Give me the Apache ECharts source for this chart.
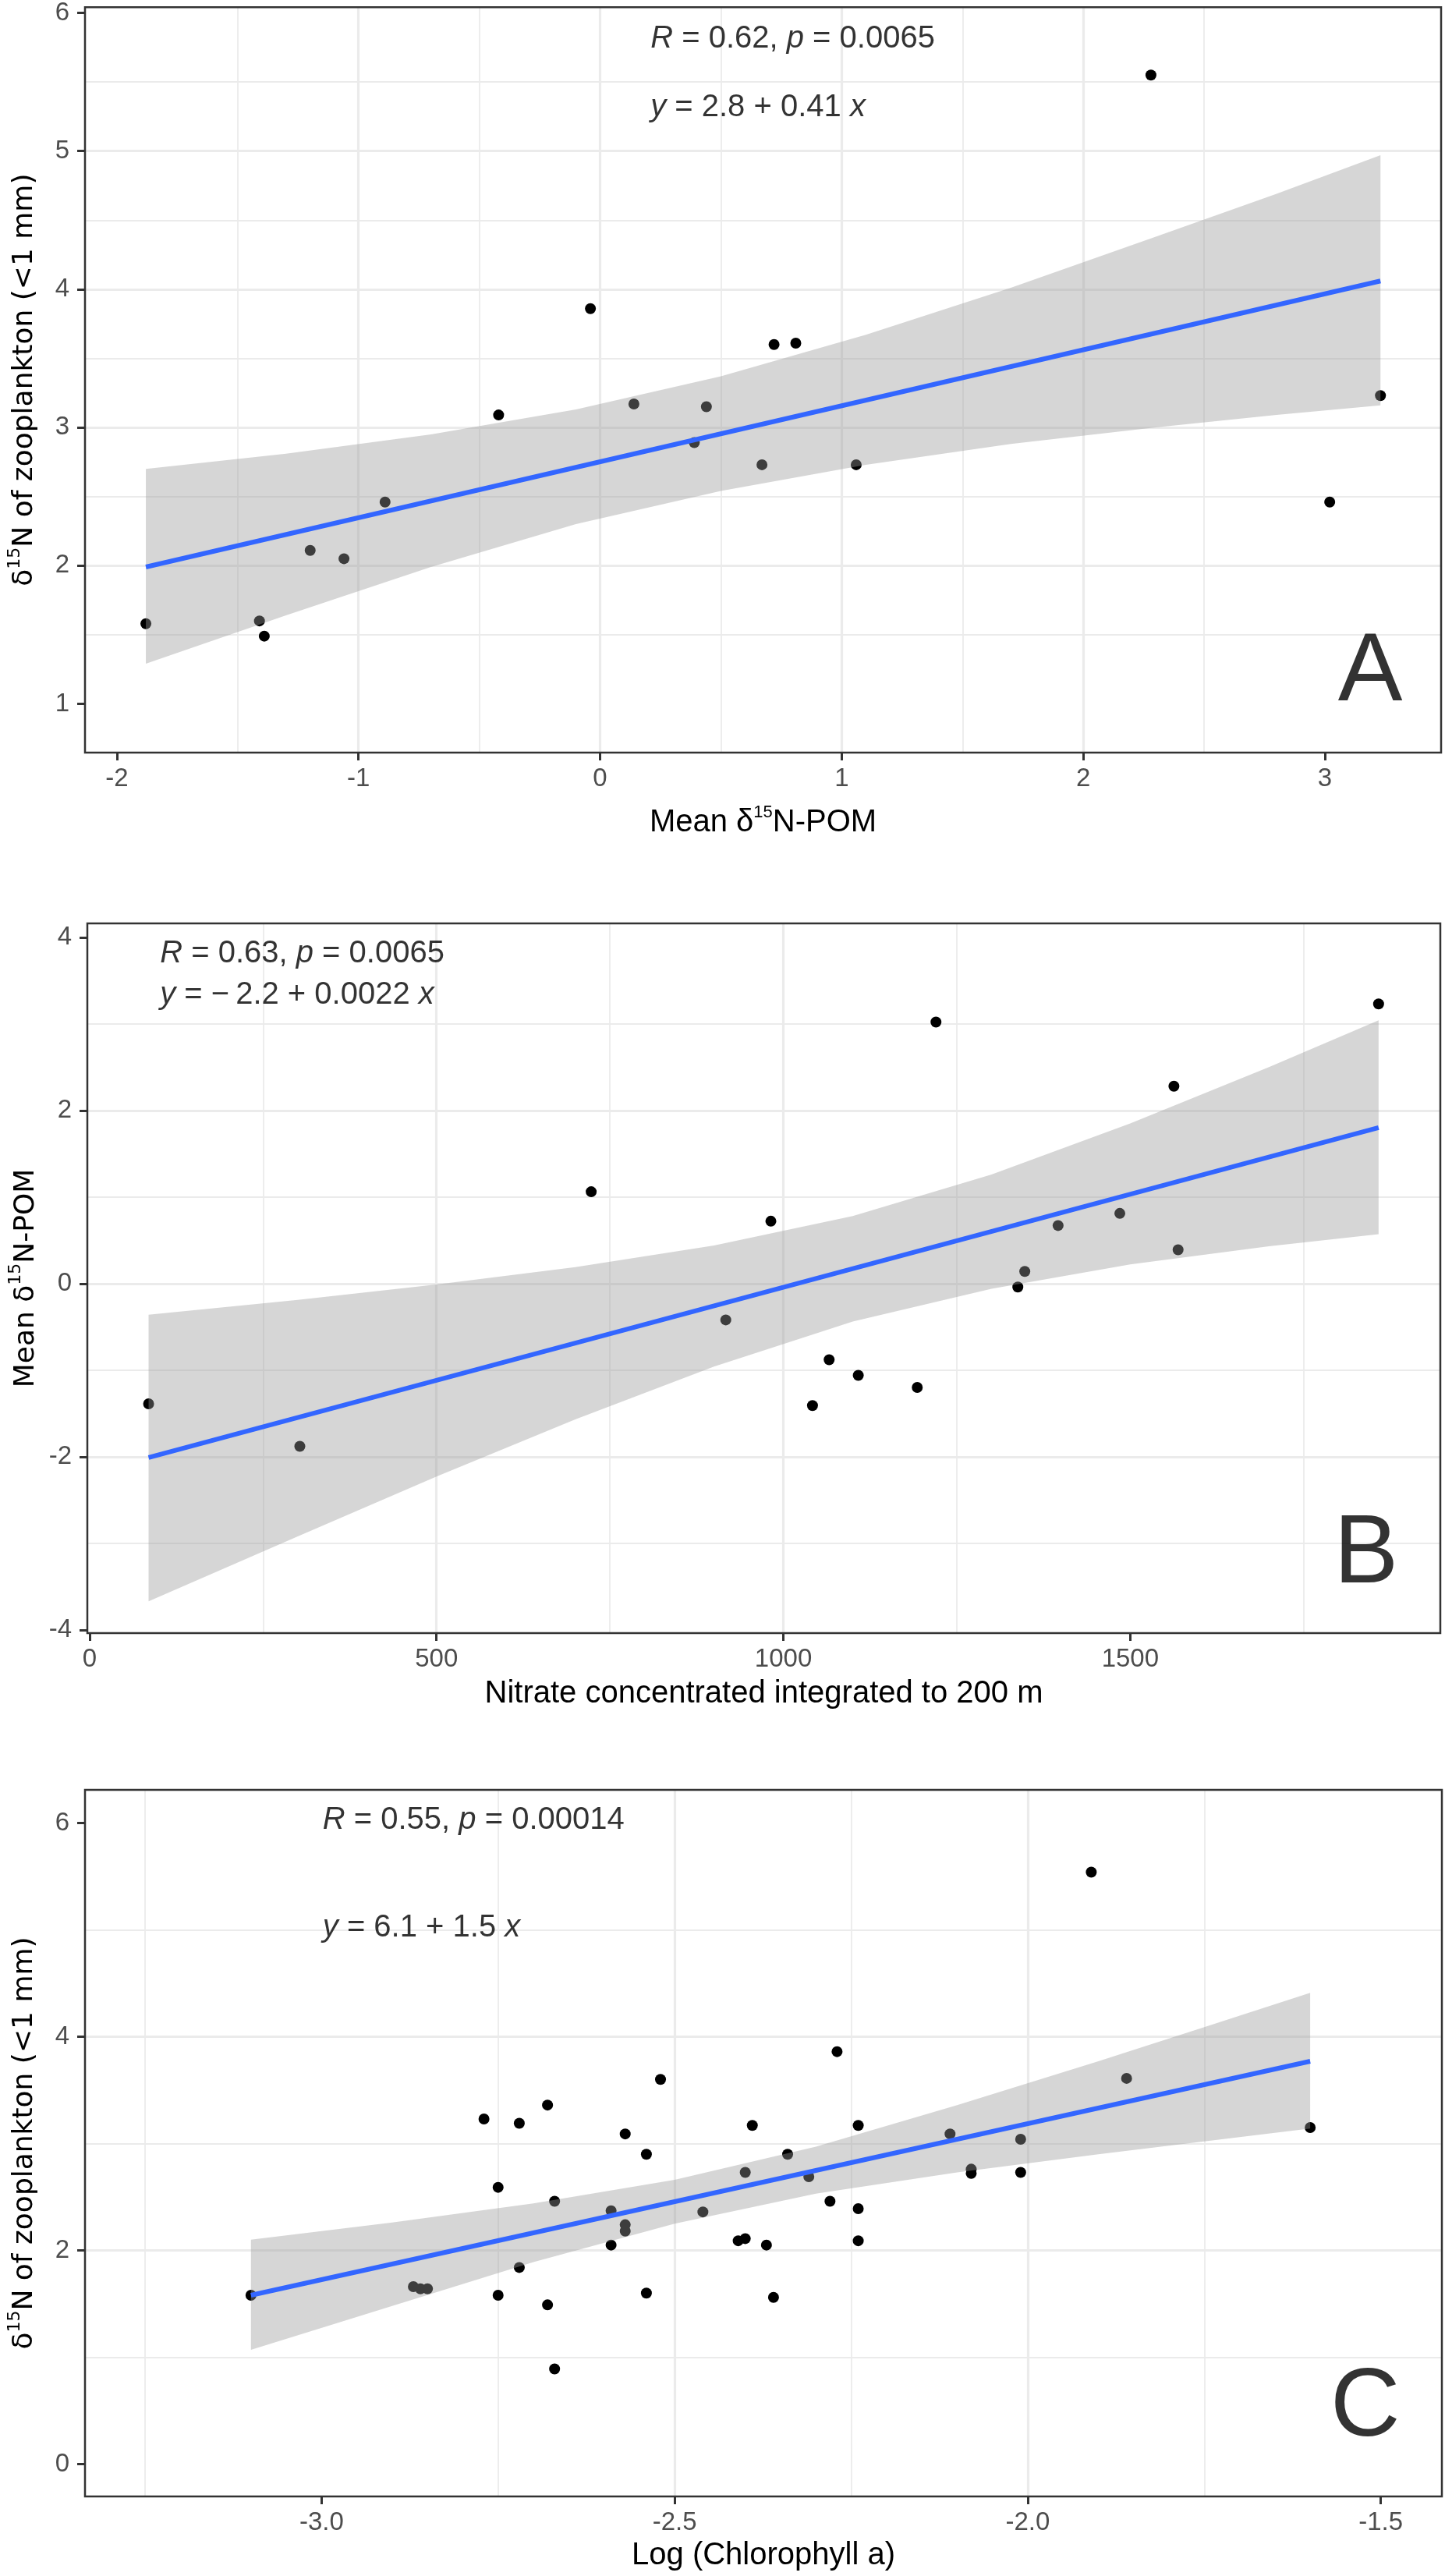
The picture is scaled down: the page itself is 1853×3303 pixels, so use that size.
<!DOCTYPE html>
<html>
<head>
<meta charset="utf-8">
<title>δ15N regressions</title>
<script src="https://cdn.jsdelivr.net/npm/echarts@6.0.0/dist/echarts.min.js"></script>
<style>
  html, body { margin: 0; padding: 0; background: #fff; }
  #chart { width: 1853px; height: 3303px; }
</style>
</head>
<body>
<div id="chart"></div>
<script>
// ---- panel A : mean d15N-POM vs d15N of zooplankton ----
var aX = [-1.88, -1.41, -1.39, -1.20, -1.06, -0.89, -0.42, -0.04, 0.14, 0.39, 0.44, 0.67, 0.72, 0.81, 1.06, 2.28, 3.02, 3.23];
var aY = [1.58, 1.60, 1.49, 2.11, 2.05, 2.46, 3.09, 3.86, 3.17, 2.89, 3.15, 2.73, 3.60, 3.61, 2.73, 5.55, 2.46, 3.23];
var aFitX = [-1.88, 3.23];
var aFitY = [1.99, 4.06];
var aBandX = [-1.88, -1.3, -0.7, -0.1, 0.5, 1.1, 1.7, 2.3, 2.8, 3.23];
var aBandLow = [1.29, 1.64, 1.99, 2.30, 2.54, 2.73, 2.88, 3.00, 3.09, 3.16];
var aBandHigh = [2.70, 2.81, 2.95, 3.13, 3.37, 3.67, 4.01, 4.38, 4.69, 4.97];
var aXTicks = [-2, -1, 0, 1, 2, 3];
var aYTicks = [1, 2, 3, 4, 5, 6];

// ---- panel B : nitrate vs mean d15N-POM ----
var bX = [85, 303, 723, 917, 982, 1042, 1066, 1108, 1193, 1220, 1338, 1348, 1396, 1485, 1563, 1569, 1858];
var bY = [-1.39, -1.88, 1.06, -0.42, 0.72, -1.41, -0.88, -1.06, -1.20, 3.02, -0.04, 0.14, 0.67, 0.81, 2.28, 0.39, 3.23];
var bFitX = [85, 1858];
var bFitY = [-2.01, 1.80];
var bBandX = [85, 300, 500, 700, 900, 1100, 1300, 1500, 1700, 1858];
var bBandLow = [-3.67, -2.92, -2.23, -1.57, -0.96, -0.44, -0.06, 0.22, 0.43, 0.57];
var bBandHigh = [-0.36, -0.19, -0.01, 0.19, 0.44, 0.78, 1.26, 1.85, 2.50, 3.04];
var bXTicks = [0, 500, 1000, 1500];
var bYTicks = [-4, -2, 0, 2, 4];

// ---- panel C : log chlorophyll a vs d15N of zooplankton ----
var cX = [-3.10, -2.87, -2.86, -2.85, -2.77, -2.75, -2.75, -2.72, -2.72, -2.68, -2.67, -2.68, -2.67,
          -2.59, -2.59, -2.57, -2.57, -2.57, -2.54, -2.54, -2.52, -2.46, -2.41, -2.40, -2.40, -2.39,
          -2.37, -2.36, -2.34, -2.31, -2.28, -2.27, -2.24, -2.24, -2.24, -2.11, -2.08, -2.08, -2.01,
          -2.01, -1.91, -1.86, -1.60];
var cY = [1.58, 1.66, 1.64, 1.64, 3.23, 2.59, 1.58, 1.84, 3.19, 3.36, 2.46, 1.49, 0.89,
          2.37, 2.05, 2.24, 2.18, 3.09, 2.90, 1.60, 3.60, 2.36, 2.09, 2.11, 2.73, 3.17,
          2.05, 1.56, 2.90, 2.69, 2.46, 3.86, 3.17, 2.39, 2.09, 3.09, 2.76, 2.72, 3.04,
          2.73, 5.54, 3.61, 3.15];
var cFitX = [-3.10, -1.60];
var cFitY = [1.58, 3.77];
var cBandX = [-3.10, -2.9, -2.7, -2.5, -2.3, -2.1, -1.9, -1.75, -1.60];
var cBandLow = [1.07, 1.48, 1.89, 2.25, 2.53, 2.73, 2.90, 3.02, 3.14];
var cBandHigh = [2.10, 2.26, 2.44, 2.66, 2.97, 3.36, 3.77, 4.09, 4.41];
var cXTicks = [-3.0, -2.5, -2.0, -1.5];
var cYTicks = [0, 2, 4, 6];

var SANS = '"Liberation Sans", Arial, sans-serif';
var WIDE = '"DejaVu Sans", Verdana, sans-serif';
var GRID_COL = '#EBEBEB';

function titleStyle(font, size) {
	return {
		fontFamily: font, fontSize: size, color: '#000',
		rich: {
			n: { fontFamily: font, fontSize: size, lineHeight: 48, color: '#000' },
			s: { fontFamily: font, fontSize: 22, lineHeight: 20, verticalAlign: 'top', color: '#000' }
		}
	};
}

// common value axis, ticks forced to "step" through min/maxInterval
function valueAxis(gi, min, max, step, ticks, fmt, isX) {
	return {
		gridIndex: gi, type: 'value', min: min, max: max,
		splitNumber: Math.round((max - min) / step), minInterval: step, maxInterval: step,
		axisLine: { show: false, onZero: false },
		axisTick: { show: true, length: 10, customValues: ticks, lineStyle: { color: '#333', width: 3 } },
		axisLabel: {
			customValues: ticks, margin: isX ? 17 : 20,
			color: '#4D4D4D', fontSize: 33, fontFamily: SANS,
			formatter: fmt || function (v) { return String(v); }
		},
		splitLine: { show: true, showMinLine: false, showMaxLine: false, lineStyle: { color: GRID_COL, width: 3.2 } },
		minorTick: { show: false, splitNumber: 2 },
		minorSplitLine: { show: true, lineStyle: { color: GRID_COL, width: 1.8 } }
	};
}

function withName(axis, name, gap, style) {
	axis.name = name;
	axis.nameLocation = 'middle';
	axis.nameGap = gap;
	axis.nameTextStyle = style;
	return axis;
}

function pointsSeries(i, xs, ys) {
	return {
		type: 'scatter', xAxisIndex: i, yAxisIndex: i, z: 2, silent: true,
		symbolSize: 14, itemStyle: { color: '#000', opacity: 1 },
		data: xs.map(function (x, k) { return [x, ys[k]]; })
	};
}

// confidence ribbon, drawn over the points like geom_smooth
function bandSeries(i, bx, lo, hi) {
	return {
		type: 'custom', xAxisIndex: i, yAxisIndex: i, z: 3, silent: true,
		data: bx.map(function (x, k) { return [x, lo[k], hi[k]]; }),
		renderItem: function (params, api) {
			if (params.dataIndex !== 0) return null;
			var pts = [];
			for (var k = 0; k < bx.length; k++) pts.push(api.coord([bx[k], hi[k]]));
			for (var j = bx.length - 1; j >= 0; j--) pts.push(api.coord([bx[j], lo[j]]));
			return { type: 'polygon', shape: { points: pts }, style: { fill: 'rgba(153,153,153,0.4)' } };
		}
	};
}

function fitSeries(i, fx, fy) {
	return {
		type: 'line', xAxisIndex: i, yAxisIndex: i, z: 4, silent: true,
		symbol: 'none', lineStyle: { color: '#3366FF', width: 6 },
		data: fx.map(function (x, k) { return [x, fy[k]]; })
	};
}

// text anchored at a data position
function noteSeries(i, x, y, text, side, size) {
	return {
		type: 'scatter', xAxisIndex: i, yAxisIndex: i, z: 5, silent: true,
		symbolSize: 1, itemStyle: { color: 'transparent' },
		data: [[x, y]],
		label: {
			show: true, position: side, distance: 0, formatter: text,
			fontFamily: SANS, fontSize: size, color: '#000',
			rich: {
				i: { fontFamily: SANS, fontSize: size, fontStyle: 'italic', color: '#000' }
			}
		}
	};
}

var chart = echarts.init(document.getElementById('chart'), null, { renderer: 'canvas' });

var gridBase = { show: true, borderColor: '#333', borderWidth: 2.5, backgroundColor: 'transparent', z: 10, containLabel: false };

var option = {
	animation: false,
	backgroundColor: '#fff',
	grid: [
		Object.assign({ left: 108, top: 6, width: 1740, height: 959 }, gridBase),
		Object.assign({ left: 112, top: 1184, width: 1735, height: 910 }, gridBase),
		Object.assign({ left: 109, top: 2295, width: 1740, height: 906 }, gridBase)
	],
	xAxis: [
		withName(valueAxis(0, -2.132, 3.481, 1, aXTicks, null, true),
			'{n|Mean δ}{s|15}{n|N-POM}', 66, titleStyle(SANS, 40)),
		withName(valueAxis(1, -3.3, 1947, 500, bXTicks, null, true),
			'{n|Nitrate concentrated integrated to 200 m}', 54, titleStyle(SANS, 40)),
		withName(valueAxis(2, -3.335, -1.4135, 0.5, cXTicks, function (v) { return v.toFixed(1); }, true),
			'{n|Log (Chlorophyll a)}', 52, titleStyle(SANS, 40))
	],
	yAxis: [
		withName(valueAxis(0, 0.647, 6.041, 1, aYTicks, null, false),
			'{n|δ}{s|15}{n|N of zooplankton (<1 mm)}', 53, titleStyle(WIDE, 36)),
		withName(valueAxis(1, -4.038, 4.16, 2, bYTicks, null, false),
			'{n|Mean δ}{s|15}{n|N-POM}', 53, titleStyle(WIDE, 36)),
		withName(valueAxis(2, -0.303, 6.31, 2, cYTicks, null, false),
			'{n|δ}{s|15}{n|N of zooplankton (<1 mm)}', 53, titleStyle(WIDE, 36))
	],
	series: [
		pointsSeries(0, aX, aY),
		bandSeries(0, aBandX, aBandLow, aBandHigh),
		fitSeries(0, aFitX, aFitY),
		noteSeries(0, 0.207, 5.812, '{i|R} = 0.62, {i|p} = 0.0065', 'right', 40),
		noteSeries(0, 0.207, 5.317, '{i|y} = 2.8 + 0.41 {i|x}', 'right', 40),
		noteSeries(0, 3.323, 1.22, 'A', 'left', 124),

		pointsSeries(1, bX, bY),
		bandSeries(1, bBandX, bBandLow, bBandHigh),
		fitSeries(1, bFitX, bFitY),
		noteSeries(1, 100.9, 3.809, '{i|R} = 0.63, {i|p} = 0.0065', 'right', 40),
		noteSeries(1, 100.9, 3.331, '{i|y} = \u2212\u20092.2 + 0.0022 {i|x}', 'right', 40),
		noteSeries(1, 1887, -3.146, 'B', 'left', 124),

		pointsSeries(2, cX, cY),
		bandSeries(2, cBandX, cBandLow, cBandHigh),
		fitSeries(2, cFitX, cFitY),
		noteSeries(2, -2.999, 6.026, '{i|R} = 0.55, {i|p} = 0.00014', 'right', 40),
		noteSeries(2, -2.999, 5.018, '{i|y} = 6.1 + 1.5 {i|x}', 'right', 40),
		noteSeries(2, -1.472, 0.515, 'C', 'left', 124)
	]
};

chart.setOption(option);
</script>
</body>
</html>
